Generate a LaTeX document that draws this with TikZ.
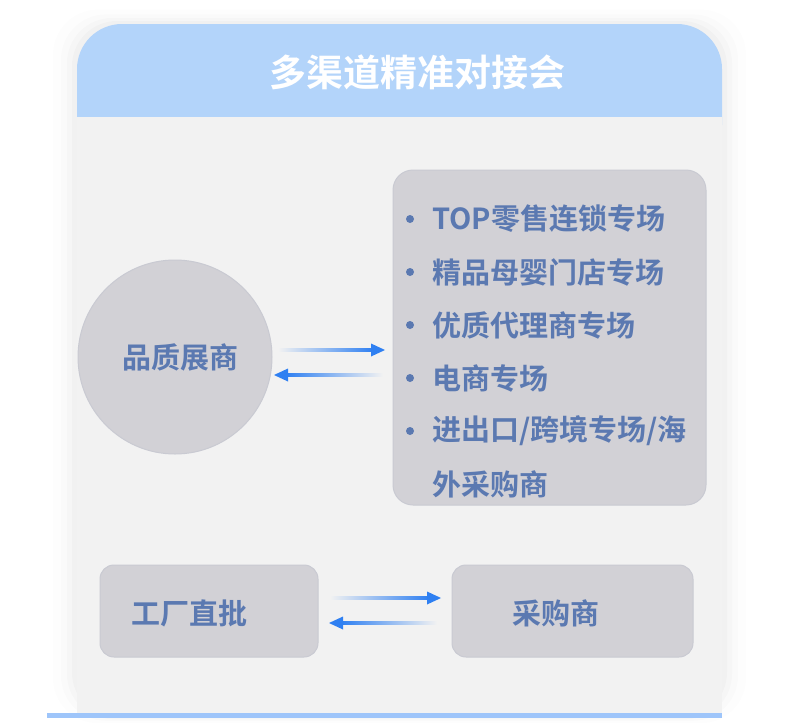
\documentclass[tikz,border=0pt]{standalone}
\usepackage{fontspec}
\setmainfont{Noto Sans CJK SC}
\newfontfamily\cjkb{Noto Sans CJK SC Bold}
\usetikzlibrary{calc}
\definecolor{hdr}{HTML}{B3D4FA}
\definecolor{bodybg}{HTML}{F2F2F2}
\definecolor{boxfill}{HTML}{D2D1D6}
\definecolor{boxline}{HTML}{C9CAD2}
\definecolor{txt}{HTML}{5B79B1}
\definecolor{arr}{HTML}{2F80F2}
\definecolor{bline}{HTML}{9EC5FA}
\tikzset{
  lbl/.style={font=\cjkb\fontsize{29}{31}\selectfont, text=txt, inner sep=0pt},
  item/.style={lbl, anchor=west},
  dot/.style={circle, fill=txt, inner sep=0pt, minimum size=8pt},
  graybox/.style={draw=boxline, line width=1pt, fill=boxfill, rounded corners=14pt},
}
\newcommand{\gradarrow}[2]{% from #1 to #2, horizontal
  \path let \p1=(#1), \p2=(#2) in
    \pgfextra{\pgfmathsetmacro{\dirsign}{(\x2>\x1)?1:-1}}
    [shade, left color=bodybg, right color=arr, shading angle={(\x2>\x1)?90:270}]
    (\x1,\y1-1.3) rectangle (\x2-\dirsign*12,\y1+1.3);
  \path let \p1=(#1), \p2=(#2) in
    \pgfextra{\pgfmathsetmacro{\dirsign}{(\x2>\x1)?1:-1}}
    [fill=arr] (\x2,\y2) -- (\x2-\dirsign*14,\y2+6.5) -- (\x2-\dirsign*14,\y2-6.5) -- cycle;
}
\begin{document}
\begin{tikzpicture}[x=1pt,y=-1pt]
\useasboundingbox[fill=white] (0,0) rectangle (800,723);
% soft shadow
\foreach \s/\o in {24/0.008,16/0.012,10/0.015,5/0.02}{
  \fill[black, opacity=\o, rounded corners=45pt] (77-\s,24-\s*0.6) rectangle (722+\s,716+\s*0.3);
}
% header
\fill[hdr, rounded corners=45pt] (77,24) rectangle (722,170);
\fill[bodybg] (77,117) rectangle (722,714);
\node[font=\cjkb\fontsize{37}{40}\selectfont, text=white, inner sep=0pt] (title) at (417,72) {多渠道精准对接会};
% bottom line
\fill[bline] (47,713) rectangle (722,718);
% circle
\node[circle, draw=boxline, line width=1pt, fill=boxfill, minimum size=194pt, inner sep=0pt] (circ) at (175,357) {};
\node[lbl] (pz) at (180,357) {品质展商};
% right box
\draw[graybox, rounded corners=20pt] (393,170) rectangle (706,505);
\node[dot] (b1) at (410,219) {};
\node[dot] (b2) at (410,272) {};
\node[dot] (b3) at (410,325) {};
\node[dot] (b4) at (410,378) {};
\node[dot] (b5) at (410,431) {};
\node[item] (i1) at (432,219) {TOP零售连锁专场};
\node[item] (i2) at (432,272) {精品母婴门店专场};
\node[item] (i3) at (432,325) {优质代理商专场};
\node[item] (i4) at (432,378) {电商专场};
\node[item] (i5) at (432,431) {进出口/跨境专场/海};
\node[item] (i6) at (432,484) {外采购商};
% bottom boxes
\draw[graybox] (100,565) rectangle (318,657);
\node[lbl] (gc) at (189,613) {工厂直批};
\draw[graybox] (452,565) rectangle (693,657);
\node[lbl] (cg) at (556,613) {采购商};
% arrows
\coordinate (a1s) at (278,350); \coordinate (a1e) at (385,350);
\coordinate (a2s) at (383,375); \coordinate (a2e) at (274,375);
\coordinate (a3s) at (330,598); \coordinate (a3e) at (441,598);
\coordinate (a4s) at (437,623); \coordinate (a4e) at (329,623);
\gradarrow{a1s}{a1e}
\gradarrow{a2s}{a2e}
\gradarrow{a3s}{a3e}
\gradarrow{a4s}{a4e}
\end{tikzpicture}
\end{document}
